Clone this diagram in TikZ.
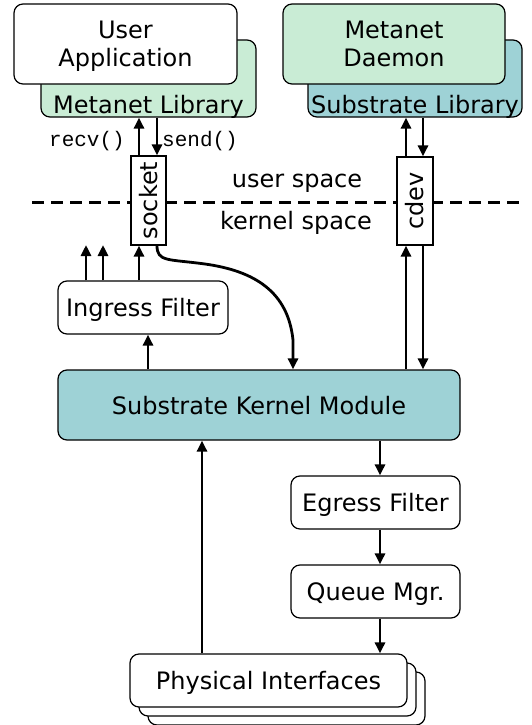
\documentclass[tikz,border=0pt]{standalone}
\usepackage{fontspec}
\setmainfont{DejaVu Sans}
\setmonofont{Liberation Mono}
\usetikzlibrary{arrows.meta,calc}
\definecolor{mint}{RGB}{201,236,213}
\definecolor{teal2}{RGB}{158,210,214}
\begin{document}
\begin{tikzpicture}[x=1pt,y=-1pt,
  font=\fontsize{24}{28}\selectfont,
  box/.style={draw=black,line width=1.2pt,rounded corners=9pt,inner sep=0pt,align=center,fill=white,text depth=0pt},
  sq/.style={draw=black,line width=1.2pt,inner sep=0pt,fill=white},
  arr/.style={line width=2.8pt,-{Triangle[length=11pt,width=10pt]}},
  lbl/.style={inner sep=0pt,text depth=0pt}]
\useasboundingbox (0,0) rectangle (531,725);
% top left
\node[box,fill=mint,minimum width=215pt,minimum height=77pt] (mlib) at (148.5,78.5) {};
\node[lbl] (mlibt) at (148.5,104) {Metanet Library};
\node[box,minimum width=223pt,minimum height=80pt] (ua) at (125.5,44) {User\\Application};
% top right
\node[box,fill=teal2,minimum width=214pt,minimum height=77pt] (slib) at (415,78.5) {};
\node[lbl] (slibt) at (415,104) {Substrate Library};
\node[box,fill=mint,minimum width=222pt,minimum height=80pt] (md) at (394,44) {Metanet\\Daemon};
% dashed separator
\coordinate (dl) at (32,202);
\coordinate (dr) at (523,202);
\draw[line width=3pt,dash pattern=on 12pt off 7pt] (dl) -- (dr);
\node[lbl] (us) at (297,181) {user space};
\node[lbl] (ks) at (296,220) {kernel space};
% socket & cdev
\node[sq,minimum width=35pt,minimum height=89pt] (socket) at (148.5,200.5) {\rotatebox{90}{socket}};
\node[sq,minimum width=36pt,minimum height=88pt] (cdev) at (415,201) {\rotatebox{90}{cdev}};
% labels
\node[lbl,font=\ttfamily\fontsize{21}{25}\selectfont,anchor=east] (recv) at (125,139) {recv()};
\node[lbl,font=\ttfamily\fontsize{21}{25}\selectfont,anchor=west] (send) at (162,139) {send()};
% kernel boxes
\node[box,minimum width=170pt,minimum height=53pt] (ing) at (143,307.5) {Ingress Filter};
\node[box,fill=teal2,minimum width=402pt,minimum height=70pt] (skm) at (259,405) {Substrate Kernel Module};
\node[box,minimum width=169pt,minimum height=53pt] (egr) at (375.5,502.5) {Egress Filter};
\node[box,minimum width=169pt,minimum height=53pt] (que) at (375.5,591.5) {Queue Mgr.};
\node[box,minimum width=277pt,minimum height=53pt] (phy3) at (286.5,698.5) {};
\node[box,minimum width=277pt,minimum height=53pt] (phy2) at (277.5,689.5) {};
\node[box,minimum width=277pt,minimum height=53pt] (phy) at (268.5,680.5) {Physical Interfaces};
% helper coordinates
\coordinate (f1) at (86,245);
\coordinate (f2) at (103,245);
\coordinate (xi) at (148,0);
\coordinate (xc) at (293,0);
\coordinate (xe) at (380,0);
\coordinate (xp) at (202,0);
% arrows socket <-> library
\draw[arr] ([xshift=-9.5pt]socket.north) -- ([xshift=-9.5pt]socket.north |- mlib.south);
\draw[arr] ([xshift=8.5pt]socket.north |- mlib.south) -- ([xshift=8.5pt]socket.north);
\draw[arr] ([xshift=-9pt]cdev.north) -- ([xshift=-9pt]cdev.north |- slib.south);
\draw[arr] ([xshift=8pt]cdev.north |- slib.south) -- ([xshift=8pt]cdev.north);
% ingress
\draw[arr] (f1 |- ing.north) -- (f1);
\draw[arr] (f2 |- ing.north) -- (f2);
\draw[arr] ([xshift=-9.5pt]socket.south |- ing.north) -- ([xshift=-9.5pt]socket.south);
\draw[arr] (xi |- skm.north) -- (xi |- ing.south);
% curve socket -> skm
\draw[arr] ([xshift=8.5pt]socket.south) .. controls (157,262) and (168,259) .. (205,264)
  .. controls (255,271) and (288,292) .. (293,340) -- (xc |- skm.north);
% cdev <-> skm
\draw[arr] ([xshift=-9pt]cdev.south |- skm.north) -- ([xshift=-9pt]cdev.south);
\draw[arr] ([xshift=8pt]cdev.south) -- ([xshift=8pt]cdev.south |- skm.north);
% egress path
\draw[arr] (xe |- skm.south) -- (xe |- egr.north);
\draw[arr] (xe |- egr.south) -- (xe |- que.north);
\draw[arr] (xe |- que.south) -- (xe |- phy.north);
\draw[arr] (xp |- phy.north) -- (xp |- skm.south);
\end{tikzpicture}
\end{document}
